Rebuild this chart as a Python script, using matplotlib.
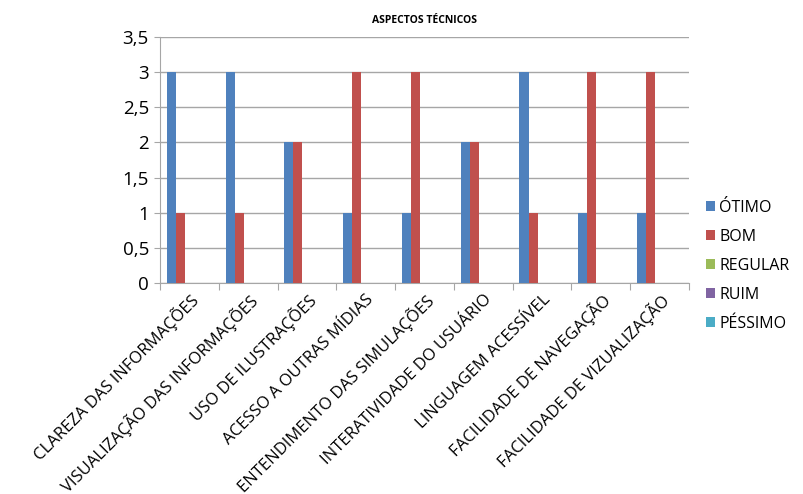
import numpy as np
import matplotlib.pyplot as plt

categorias = ['CLAREZA DAS INFORMAÇÕES', 'VISUALIZAÇÃO DAS INFORMAÇÕES', 'USO DE ILUSTRAÇÕES',
              'ACESSO A OUTRAS MÍDIAS', 'ENTENDIMENTO DAS SIMULAÇÕES', 'INTERATIVIDADE DO USUÁRIO',
              'LINGUAGEM ACESSÍVEL', 'FACILIDADE DE NAVEGAÇÃO', 'FACILIDADE DE VIZUALIZAÇÃO']
otimo = [3, 3, 2, 1, 1, 2, 3, 1, 1]
bom = [1, 1, 2, 3, 3, 2, 1, 3, 3]
regular = [0, 0, 0, 0, 0, 0, 0, 0, 0]
ruim = [0, 0, 0, 0, 0, 0, 0, 0, 0]
pessimo = [0, 0, 0, 0, 0, 0, 0, 0, 0]
series = ['ÓTIMO', 'BOM', 'REGULAR', 'RUIM', 'PÉSSIMO']
cores = ['#4F81BD', '#C0504D', '#9BBB59', '#8064A2', '#4BACC6']

plt.rcParams['font.family'] = ['Open Sans', 'DejaVu Sans']

fig = plt.figure(figsize=(8.04, 4.94), dpi=100)
ax = fig.add_axes([0.199, 0.427, 0.658, 0.498])

x = np.arange(len(categorias))
w = 1 / 6.5
for i, (vals, nome, cor) in enumerate(zip([otimo, bom, regular, ruim, pessimo], series, cores)):
    ax.bar(x + (i - 2) * w, vals, width=w, color=cor, label=nome, zorder=3)

ax.set_xlim(-0.5, len(categorias) - 0.5)
ax.set_ylim(0, 3.5)
ax.set_yticks(np.arange(0, 3.6, 0.5))
ax.set_yticklabels([f'{v:g}'.replace('.', ',') for v in np.arange(0, 3.6, 0.5)], fontsize=13.5)
ax.yaxis.grid(True, color='#a6a6a6', linewidth=1, zorder=0)
for s in ['top', 'right']:
    ax.spines[s].set_visible(False)
ax.spines['left'].set_color('#a6a6a6')
ax.spines['bottom'].set_color('#a6a6a6')
ax.tick_params(axis='y', color='#a6a6a6', length=4, pad=4)

# marcas nas divisas das categorias, rótulos no centro
ax.set_xticks(np.arange(-0.5, len(categorias)), minor=False)
ax.set_xticklabels([])
ax.tick_params(axis='x', which='major', color='#a6a6a6', length=5)
ax.set_xticks(x, minor=True)
ax.set_xticklabels(categorias, minor=True, rotation=45, ha='right', rotation_mode='anchor', fontsize=12)
ax.tick_params(axis='x', which='minor', length=0, pad=6)

ax.set_title('ASPECTOS TÉCNICOS', fontsize=7.5, fontweight='bold', pad=10)

fig.legend(loc='center left', bbox_to_anchor=(0.86, 0.462), frameon=False, fontsize=11.5,
           handlelength=0.6, handleheight=0.6, handletextpad=0.25, labelspacing=0.82)

fig.savefig('out.png', dpi=100)
